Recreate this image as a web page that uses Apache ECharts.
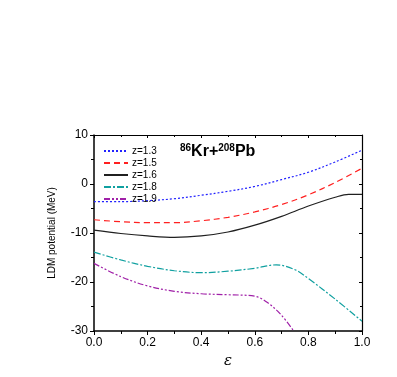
<!DOCTYPE html>
<html><head><meta charset="utf-8">
<script src="https://cdn.jsdelivr.net/npm/echarts@6/dist/echarts.min.js"></script>
<style>html,body{margin:0;padding:0;background:#fff}#c{width:397px;height:377px}</style>
</head><body><div id="c"></div>
<script>
const seriesNames = ['z=1.3','z=1.5','z=1.6','z=1.8','z=1.9'];
const eps13 = [0,0.1,0.2,0.3,0.4,0.5,0.6,0.7,0.8,0.9,1.0];
const v13 = [-3.6,-3.6,-3.4,-3.0,-2.3,-1.5,-0.5,0.9,2.4,4.5,6.9];
const eps15 = [0,0.1,0.2,0.3,0.4,0.5,0.6,0.7,0.8,0.9,1.0];
const v15 = [-7.3,-7.7,-7.9,-7.9,-7.5,-6.8,-5.7,-4.2,-2.2,0.3,3.2];
const eps16 = [0,0.1,0.2,0.3,0.4,0.5,0.6,0.7,0.8,0.9,0.95,1.0];
const v16 = [-9.4,-10.1,-10.6,-10.9,-10.6,-9.8,-8.4,-6.6,-4.5,-2.7,-2.1,-2.1];
const eps18 = [0,0.1,0.2,0.3,0.4,0.5,0.6,0.68,0.75,0.8,0.9,1.0];
const v18 = [-13.9,-15.5,-16.8,-17.7,-18.1,-17.8,-17.2,-16.5,-17.5,-19.3,-23.5,-28.0];
const eps19 = [0,0.1,0.2,0.3,0.4,0.5,0.6,0.65,0.7,0.745];
const v19 = [-16.2,-18.9,-20.8,-21.9,-22.4,-22.6,-22.9,-24.3,-26.8,-30.0];

const pairs = (xs, ys) => xs.map((x,i)=>[x, ys[i]]);
const colors = ['#2222ff','#ff2020','#202020','#10a0a0','#a020a8'];
const dashes = [[2,2],[6,4],'solid',[7,2,2,2],[6,2,2,2,2,2]];
const data = [pairs(eps13,v13),pairs(eps15,v15),pairs(eps16,v16),pairs(eps18,v18),pairs(eps19,v19)];

const chart = echarts.init(document.getElementById('c'));
const axisFont = {fontFamily:'Liberation Sans, Arial', fontSize:12, color:'#000'};
chart.setOption({
  animation:false,
  grid:{left:94,right:35,top:135,bottom:46,show:false},
  legend:{
    data:seriesNames, orient:'vertical', left:98, top:141,
    itemWidth:24, itemHeight:8, itemGap:2,
    itemStyle:{opacity:0},
    textStyle:{fontFamily:'Liberation Sans, Arial', fontSize:10, color:'#000', padding:[0,0,0,-1]}
  },
  xAxis:[{
    type:'value', min:0, max:1, interval:0.2,
    axisLine:{show:true,onZero:false,lineStyle:{color:'#000',width:1.5}},
    axisTick:{show:true,length:4,lineStyle:{color:'#000'}},
    minorTick:{show:true,splitNumber:2,length:3,lineStyle:{color:'#000'}},
    splitLine:{show:false},
    axisLabel:Object.assign({formatter:v=>v.toFixed(1),margin:6},axisFont),
    name:'ε', nameLocation:'middle', nameGap:17,
    nameTextStyle:{fontFamily:'DejaVu Serif', fontStyle:'italic', fontSize:15, color:'#000'}
  },{
    type:'value', min:0, max:1, interval:0.2, position:'top',
    axisLine:{show:true,onZero:false,lineStyle:{color:'#000',width:1.2}},
    axisTick:{show:true,inside:true,length:3,lineStyle:{color:'#000'}},
    minorTick:{show:true,splitNumber:2,length:2,lineStyle:{color:'#000'}},
    axisLabel:{show:false}, splitLine:{show:false}
  }],
  yAxis:[{
    type:'value', min:-30, max:10, interval:10,
    axisLine:{show:true,onZero:false,lineStyle:{color:'#000',width:1.5}},
    axisTick:{show:true,length:4,lineStyle:{color:'#000'}},
    minorTick:{show:true,splitNumber:2,length:3,lineStyle:{color:'#000'}},
    splitLine:{show:false},
    axisLabel:Object.assign({margin:6},axisFont),
    name:'LDM potential (MeV)', nameLocation:'middle', nameGap:37,
    nameTextStyle:{fontFamily:'Liberation Sans, Arial', fontSize:10, color:'#000'}
  },{
    type:'value', min:-30, max:10, interval:10, position:'right',
    axisLine:{show:true,onZero:false,lineStyle:{color:'#000',width:1.2}},
    axisTick:{show:true,inside:true,length:3,lineStyle:{color:'#000'}},
    minorTick:{show:true,splitNumber:2,length:2,lineStyle:{color:'#000'}},
    axisLabel:{show:false}, splitLine:{show:false}
  }],
  graphic:[{
    type:'text', left:180, top:143,
    style:{
      text:'{s|86}{b|Kr+}{s|208}{b|Pb}',
      rich:{
        s:{fontFamily:'Liberation Sans, Arial',fontSize:10,fontWeight:'bold',verticalAlign:'top',padding:[0,0,8,0]},
        b:{fontFamily:'Liberation Sans, Arial',fontSize:16,fontWeight:'bold'}
      },
      fill:'#000'
    }
  }],
  series:data.map((d,i)=>({
    name:seriesNames[i], type:'line', data:d, smooth:0.35, showSymbol:false, symbol:'none',
    clip:true,
    color:colors[i],
    lineStyle:{color:colors[i], width:1.2, type:dashes[i]}
  }))
});
</script></body></html>
